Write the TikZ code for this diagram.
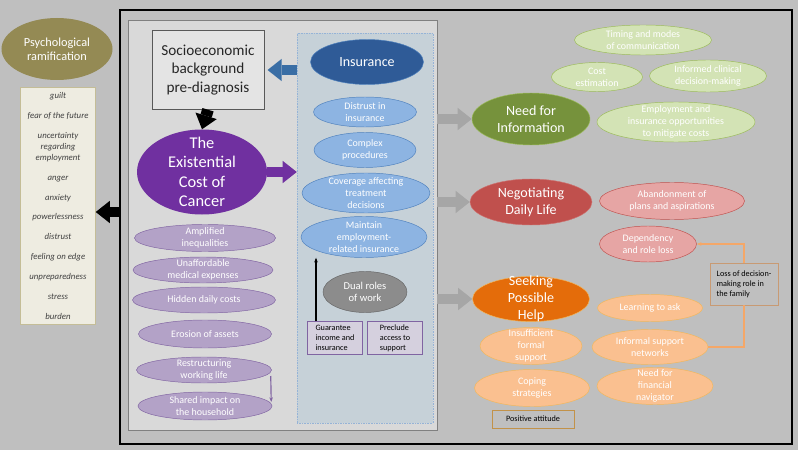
\documentclass[tikz,border=0pt]{standalone}
\usepackage{fontspec}
\setmainfont{Carlito}
\usetikzlibrary{shapes.geometric, arrows.meta}

\definecolor{bggray}{HTML}{BFBFBF}
\definecolor{panelgray}{HTML}{D9D9D9}
\definecolor{hatchblue}{HTML}{C6D1D8}
\definecolor{psyolive}{HTML}{948A54}
\definecolor{listtan}{HTML}{EEECE1}
\definecolor{listline}{HTML}{C4BD97}
\definecolor{cancerpurple}{HTML}{7030A0}
\definecolor{lilacfill}{HTML}{B3A2C7}
\definecolor{lilacline}{HTML}{8064A2}
\definecolor{insdark}{HTML}{2F5B97}
\definecolor{insfill}{HTML}{8DB4E2}
\definecolor{insline}{HTML}{4F81BD}
\definecolor{dualgray}{HTML}{8C8C8C}
\definecolor{rolefill}{HTML}{D5D0DE}
\definecolor{infogreen}{HTML}{76923C}
\definecolor{infofill}{HTML}{D3E3B5}
\definecolor{infoline}{HTML}{9BBB59}
\definecolor{dailyred}{HTML}{C0504D}
\definecolor{dailyfill}{HTML}{E6A5A4}
\definecolor{helporange}{HTML}{E46C0A}
\definecolor{helpfill}{HTML}{FAC090}
\definecolor{helpline}{HTML}{F2B75B}
\definecolor{arrowgray}{HTML}{A6A6A6}
\definecolor{socioblue}{HTML}{3A6EA5}

\tikzset{dims/.style 2 args={minimum width=#1*0.03cm, minimum height=#2*0.03cm}}
\tikzstyle{oval} = [ellipse, inner xsep=0pt, inner ysep=-6pt, align=center, text=white]
\tikzstyle{small} = [font=\fontsize{8.5}{10}\selectfont]
\tikzstyle{big} = [font=\fontsize{12}{14.5}\selectfont]
\tikzstyle{lilac} = [oval, small, fill=lilacfill, draw=lilacline]
\tikzstyle{ins} = [oval, small, fill=insfill, draw=insline]
\tikzstyle{info} = [oval, small, fill=infofill, draw=infoline]
\tikzstyle{daily} = [oval, small, fill=dailyfill, draw=dailyred]
\tikzstyle{help} = [oval, small, fill=helpfill, draw=helpline]
\tikzstyle{rolebox} = [rectangle, draw=lilacline, fill=rolefill, align=left, inner sep=0pt, font=\fontsize{7}{8.5}\selectfont]
\tikzstyle{blockarrow} = [line width=9pt, -{Triangle[length=12pt, width=19pt, line width=0pt]}]

\begin{document}
\begin{tikzpicture}[x=0.03cm, y=-0.03cm]

	\fill[bggray] (0,0) rectangle (798,450);
	\node[draw=black, line width=1.5pt, dims={672}{434}] (frame) at (456,227) {};
	\node[draw=gray, fill=panelgray, dims={309}{410}] (panel) at (282.5,225) {};
	\node[draw=insline!60, densely dotted, fill=hatchblue, dims={136}{390}] (hatch) at (365,228) {};

	% psychological side
	\node[oval, fill=psyolive, dims={111}{62}, font=\fontsize{10.5}{12}\selectfont] (psy) at (57,49) {Psychological\\ramification};
	\node[rectangle, draw=listline, fill=listtan, dims={75}{237}, align=center, text=black!75, font=\fontsize{7.5}{9.3}\selectfont\itshape] (feel) at (58,206)
		{guilt\\[7.7pt] fear of the future\\[7.7pt] uncertainty\\regarding\\employment\\[7.7pt] anger\\[7.7pt] anxiety\\[7.7pt]
		powerlessness\\[7.7pt] distrust\\[7.7pt] feeling on edge\\[7.7pt] unpreparedness\\[7.7pt] stress\\[7.7pt] burden};
	\draw[blockarrow, black] ([yshift=-0.18cm]frame.west |- feel.east) -- ([yshift=-0.18cm]feel.east);

	% existential cost
	\node[rectangle, draw=black!65, fill=panelgray!70!white, dims={112}{79}, align=center, text=black!85, font=\fontsize{13}{15.5}\selectfont] (socio) at (208,70) {Socioeconomic\\background\\pre-diagnosis};
	\node[oval, fill=cancerpurple, dims={130}{85}, font=\fontsize{14}{16.6}\selectfont] (exist) at (202,172) {The\\Existential\\Cost of\\Cancer};
	\draw[blockarrow, black, line width=10pt] (socio.south) -- (exist.north);

	\node[lilac, dims={141}{27}] (ampl) at (205,238) {Amplified\\inequalities};
	\node[lilac, dims={140}{26}] (medic) at (203,270) {Unaffordable\\medical expenses};
	\node[lilac, dims={143}{26}] (hidden) at (204,300) {Hidden daily costs};
	\node[lilac, dims={133}{28}] (assets) at (205,334) {Erosion of assets};
	\node[lilac, dims={135}{26}] (restr) at (204,370) {Restructuring\\working life};
	\node[lilac, dims={134}{28}] (shared) at (205,406) {Shared impact on\\the household};
	\draw[lilacline, line width=1pt, -{Stealth[length=4pt]}] ([shift={(-1,6)}]restr.east) -- ([shift={(-1,-4)}]shared.east);

	% insurance
	\node[oval, fill=insdark, draw=insline, dims={113}{45}, big] (insur) at (367,62) {Insurance};
	\node[ins, dims={103}{30}] (distr) at (365,112) {Distrust in\\insurance};
	\node[ins, dims={102}{35}] (compl) at (365,150) {Complex\\procedures};
	\node[ins, dims={128}{40}] (cover) at (366,193) {Coverage affecting\\treatment\\decisions};
	\node[ins, dims={126}{41}] (maint) at (364,237) {Maintain\\employment-\\related insurance};
	\node[oval, fill=dualgray, draw=black!60, dims={84}{41}, font=\fontsize{9}{10.5}\selectfont] (dual) at (365,292) {Dual roles\\of work};
	\node[rolebox, dims={55}{33}] (guar) at (335,338) {Guarantee\\income and\\insurance};
	\node[rolebox, dims={55}{33}] (precl) at (395,338) {Preclude\\access to\\support};
	\draw[black, line width=1pt, -{Stealth[length=4pt]}] ([xshift=-0.57cm]guar.north) -- ([xshift=-0.57cm]guar.north |- maint.south);

	\draw[blockarrow, socioblue] (hatch.west |- socio.east) -- ([xshift=0.1cm]socio.east);
	\draw[blockarrow, cancerpurple] (exist.east) -- (exist.east -| hatch.west);

	% need for information
	\node[oval, fill=infogreen, draw=infoline, dims={118}{52}, big] (need) at (531,119) {Need for\\Information};
	\node[info, dims={137}{30}] (timing) at (643,40) {Timing and modes\\of communication};
	\node[info, dims={91}{29}] (cost) at (597,77) {Cost\\estimation};
	\node[info, dims={117}{32}] (clin) at (708,76) {Informed clinical\\decision-making};
	\node[info, dims={158}{40}] (empl) at (676,122) {Employment and\\insurance opportunities\\to mitigate costs};

	% negotiating daily life
	\node[oval, fill=dailyred, draw=dailyred!80, dims={122}{46}, big] (negot) at (531,202) {Negotiating\\Daily Life};
	\node[daily, dims={145}{37}] (aband) at (672,201) {Abandonment of\\plans and aspirations};
	\node[daily, dims={97}{36}] (dep) at (648,244) {Dependency\\and role loss};

	% seeking possible help
	\node[oval, fill=helporange, draw=helpline, dims={117}{45}, big] (seek) at (531,299) {Seeking\\Possible\\Help};
	\node[help, dims={105}{27}] (learn) at (650,308) {Learning to ask};
	\node[help, dims={102}{37}] (insuf) at (531,346) {Insufficient\\formal\\support};
	\node[help, dims={116}{35}] (inform) at (650,347) {Informal support\\networks};
	\node[help, dims={115}{37}] (coping) at (532,388) {Coping\\strategies};
	\node[help, dims={116}{37}] (navig) at (655,386) {Need for\\financial\\navigator};
	\node[rectangle, draw=helpline!80!black, fill=bggray, dims={82}{18}, inner sep=0pt, font=\fontsize{7}{8.5}\selectfont] (posit) at (533,419) {Positive attitude};
	\node[rectangle, draw=helpfill!80!black, fill=bggray, dims={68}{42}, align=left, inner sep=0pt, font=\fontsize{7}{8.5}\selectfont] (loss) at (744,284) {Loss of decision-\\making role in\\the family};
	\draw[helpfill!70!helporange, line width=1.6pt, -{Stealth[length=4pt]}] (loss.north) |- (dep.east);
	\draw[helpfill!70!helporange, line width=1.6pt] (loss.south) |- (inform.east);

	\draw[blockarrow, arrowgray] (panel.east |- need.west) -- (need.west);
	\draw[blockarrow, arrowgray] (panel.east |- negot.west) -- (negot.west);
	\draw[blockarrow, arrowgray] (panel.east |- seek.west) -- (seek.west);

\end{tikzpicture}
\end{document}
